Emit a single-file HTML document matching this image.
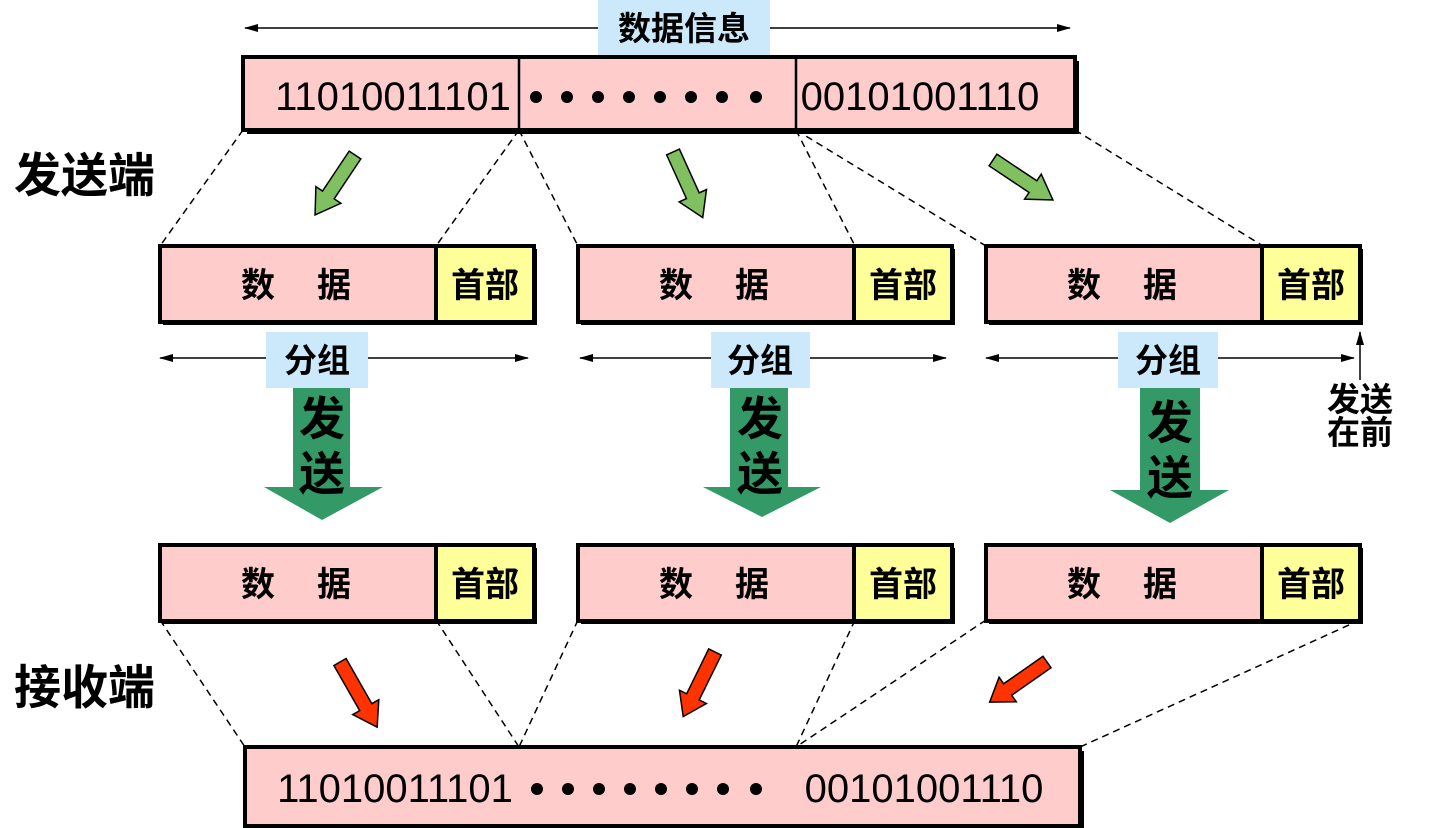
<!DOCTYPE html>
<html><head><meta charset="utf-8"><style>
html,body{margin:0;padding:0;background:#fff;}
svg{display:block;}
text{font-family:"Liberation Sans","Noto Sans CJK SC",sans-serif;}
.cj{font-family:"Noto Sans CJK SC","WenQuanYi Zen Hei",sans-serif;font-weight:bold;}
</style></head><body>
<svg width="1436" height="828" viewBox="0 0 1436 828" xmlns="http://www.w3.org/2000/svg">
<defs>
<marker id="ah" markerWidth="14" markerHeight="8" refX="13" refY="4" orient="auto-start-reverse" markerUnits="userSpaceOnUse">
<path d="M0,0 L14,4 L0,8 z" fill="#000"/></marker>
</defs>
<line x1="245" y1="28" x2="1070" y2="28" stroke="#000" stroke-width="1.5" marker-start="url(#ah)" marker-end="url(#ah)"/>
<rect x="598" y="0" width="172" height="57" fill="#cce9fb"/>
<text x="684" y="40" font-size="33" text-anchor="middle" class="cj">数据信息</text>

<rect x="247" y="61" width="832" height="73" fill="#000"/>
<rect x="243" y="57" width="832" height="73" fill="#ffcccc" stroke="#000" stroke-width="4"/>
<line x1="519" y1="57" x2="519" y2="130" stroke="#000" stroke-width="2.5"/>
<line x1="796" y1="57" x2="796" y2="130" stroke="#000" stroke-width="2.5"/>
<text x="393" y="110" font-size="40" text-anchor="middle">11010011101</text>
<text x="920" y="110" font-size="40" text-anchor="middle">00101001110</text>
<g fill="#000"><circle cx="536" cy="97" r="6"/><circle cx="567" cy="97" r="6"/><circle cx="598" cy="97" r="6"/><circle cx="629" cy="97" r="6"/><circle cx="660" cy="97" r="6"/><circle cx="691" cy="97" r="6"/><circle cx="722" cy="97" r="6"/><circle cx="756" cy="97" r="6"/></g>

<g stroke="#000" stroke-width="1.5" stroke-dasharray="7,5" fill="none">
<line x1="243" y1="130" x2="160" y2="246"/><line x1="519" y1="130" x2="436" y2="246"/>
<line x1="519" y1="130" x2="578" y2="246"/><line x1="796" y1="130" x2="855" y2="246"/>
<line x1="796" y1="130" x2="986" y2="246"/><line x1="1075" y1="130" x2="1263" y2="246"/>
<line x1="160" y1="620" x2="245" y2="747"/><line x1="436" y1="620" x2="519" y2="747"/>
<line x1="578" y1="620" x2="519" y2="747"/><line x1="855" y1="620" x2="796" y2="747"/>
<line x1="986" y1="620" x2="796" y2="747"/><line x1="1360" y1="620" x2="1080" y2="747"/>
</g>

<text x="14" y="192" font-size="47" class="cj">发送端</text>
<text x="14" y="704" font-size="47" class="cj">接收端</text>

<g id="pk">
<rect x="163" y="249" width="374" height="76" fill="#000"/>
<rect x="160" y="246" width="374" height="76" fill="#ffcccc" stroke="#000" stroke-width="4"/>
<rect x="436" y="248" width="96" height="72" fill="#ffff99"/>
<line x1="436" y1="246" x2="436" y2="322" stroke="#000" stroke-width="4"/>
<text x="298" y="297" font-size="34" text-anchor="middle" class="cj" letter-spacing="4">数　据</text>
<text x="485" y="297" font-size="34" text-anchor="middle" class="cj">首部</text>
</g>
<use href="#pk" x="418" y="0"/>
<use href="#pk" x="826" y="0"/>
<use href="#pk" x="0" y="299"/>
<use href="#pk" x="418" y="299"/>
<use href="#pk" x="826" y="299"/>

<g stroke="#000" stroke-width="1.5">
<line x1="160" y1="358" x2="528" y2="358" marker-start="url(#ah)" marker-end="url(#ah)"/>
<line x1="580" y1="358" x2="946" y2="358" marker-start="url(#ah)" marker-end="url(#ah)"/>
<line x1="986" y1="358" x2="1354" y2="358" marker-start="url(#ah)" marker-end="url(#ah)"/>
<line x1="1360" y1="380" x2="1360" y2="332" marker-end="url(#ah)"/>
</g>
<g fill="#cce9fb">
<rect x="266" y="332" width="102" height="56"/>
<rect x="711" y="332" width="99" height="56"/>
<rect x="1118" y="332" width="100" height="56"/>
</g>
<text x="317" y="372" font-size="33" text-anchor="middle" class="cj">分组</text>
<text x="760" y="372" font-size="33" text-anchor="middle" class="cj">分组</text>
<text x="1168" y="372" font-size="33" text-anchor="middle" class="cj">分组</text>
<text x="1360" y="411" font-size="33" text-anchor="middle" class="cj" font-weight="normal">发送</text>
<text x="1360" y="444" font-size="33" text-anchor="middle" class="cj" font-weight="normal">在前</text>

<g fill="#339966">
<polygon points="293,388 350,388 350,487 383,487 322,520 264,487 293,487"/>
<polygon points="730,388 788,388 788,487 821,487 762,517 703,487 730,487"/>
<polygon points="1140,388 1200,388 1200,490 1229,490 1170,523 1110,490 1140,490"/>
</g>
<g font-size="46" text-anchor="middle" class="cj">
<text x="322" y="435">发</text><text x="322" y="490">送</text>
<text x="760" y="435">发</text><text x="760" y="490">送</text>
<text x="1170" y="439">发</text><text x="1170" y="494">送</text>
</g>

<g stroke="#000" stroke-width="1.5">
<g fill="#80c060">
<polygon transform="translate(355,155) rotate(123.7)" points="0,-7 48,-7 48,-15 72,0 48,15 48,7 0,7"/>
<polygon transform="translate(673,152) rotate(65.6)" points="0,-7 48,-7 48,-15 72,0 48,15 48,7 0,7"/>
<polygon transform="translate(993,160) rotate(33.7)" points="0,-7 48,-7 48,-15 72,0 48,15 48,7 0,7"/>
</g>
<g fill="#ff3300">
<polygon transform="translate(340,662) rotate(60.3)" points="0,-7 52,-7 52,-15 75,0 52,15 52,7 0,7"/>
<polygon transform="translate(715,652) rotate(116.2)" points="0,-7 50,-7 50,-15 72,0 50,15 50,7 0,7"/>
<polygon transform="translate(1047,662) rotate(145)" points="0,-7 48,-7 48,-15 70,0 48,15 48,7 0,7"/>
</g>
</g>

<rect x="249" y="751" width="835" height="79" fill="#000"/>
<rect x="245" y="747" width="835" height="79" fill="#ffcccc" stroke="#000" stroke-width="4"/>
<text x="395" y="802" font-size="40" text-anchor="middle">11010011101</text>
<text x="924" y="802" font-size="40" text-anchor="middle">00101001110</text>
<g fill="#000"><circle cx="537" cy="789" r="6"/><circle cx="568" cy="789" r="6"/><circle cx="599" cy="789" r="6"/><circle cx="630" cy="789" r="6"/><circle cx="661" cy="789" r="6"/><circle cx="692" cy="789" r="6"/><circle cx="723" cy="789" r="6"/><circle cx="756" cy="789" r="6"/></g>
</svg>
</body></html>
